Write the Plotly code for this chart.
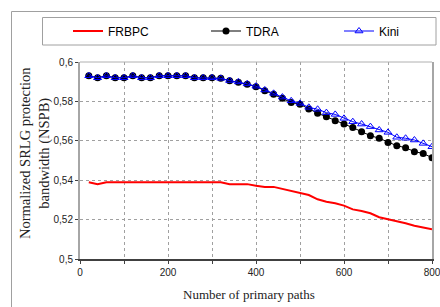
import plotly.graph_objects as go

x_paths = list(range(20, 801, 20))

frbpc = [0.539, 0.538, 0.539, 0.539, 0.539, 0.539, 0.539, 0.539, 0.539, 0.539,
         0.539, 0.539, 0.539, 0.539, 0.539, 0.539, 0.538, 0.538, 0.538, 0.5372,
         0.5366, 0.5366, 0.5355, 0.5345, 0.5333, 0.5325, 0.5303, 0.5291, 0.5283, 0.5271,
         0.5252, 0.5244, 0.5232, 0.5212, 0.5202, 0.5193, 0.5181, 0.5169, 0.5161, 0.5151]

tdra = [0.593, 0.592, 0.593, 0.592, 0.592, 0.593, 0.592, 0.592, 0.593, 0.593,
        0.593, 0.593, 0.592, 0.592, 0.592, 0.5917, 0.5905, 0.5897, 0.5887, 0.5875,
        0.5854, 0.5836, 0.5816, 0.5795, 0.5785, 0.5761, 0.5740, 0.5722, 0.5702, 0.5685,
        0.5667, 0.5646, 0.5626, 0.5613, 0.5592, 0.5575, 0.5565, 0.5545, 0.5536, 0.5514]

kini = [0.593, 0.592, 0.593, 0.592, 0.592, 0.593, 0.592, 0.592, 0.593, 0.593,
        0.593, 0.593, 0.592, 0.592, 0.592, 0.5917, 0.5906, 0.5899, 0.5889, 0.5877,
        0.5858, 0.5841, 0.5822, 0.5803, 0.5790, 0.5770, 0.5760, 0.5743, 0.5734, 0.5714,
        0.5697, 0.5685, 0.5672, 0.5655, 0.5643, 0.5618, 0.5613, 0.5604, 0.5587, 0.5570]

y_tickvals = [0.5, 0.52, 0.54, 0.56, 0.58, 0.6]
y_ticktext = ["0,5", "0,52", "0,54", "0,56", "0,58", "0,6"]
x_tickvals = [0, 100, 200, 300, 400, 500, 600, 700, 800]
x_ticktext = ["0", "", "200", "", "400", "", "600", "", "800"]

W, H = 440, 307
L, R, T, B = 80, 8, 62, 48
pw, ph = W - L - R, H - T - B


def px(x):
    return (x - L) / pw


def py(y):
    return (H - B - y) / ph


fig = go.Figure()
fig.add_trace(go.Scatter(x=x_paths, y=frbpc, name="FRBPC", mode="lines",
                         line=dict(color="#ff0000", width=2), legend="legend",
                         showlegend=True))
fig.add_trace(go.Scatter(x=x_paths, y=tdra, name="TDRA", mode="lines+markers",
                         line=dict(color="#000000", width=1),
                         marker=dict(symbol="circle", size=7, color="#000000"),
                         legend="legend2", showlegend=True))
fig.add_trace(go.Scatter(x=x_paths, y=kini, name="Kini", mode="lines+markers",
                         line=dict(color="#0000ff", width=1),
                         marker=dict(symbol="triangle-up-open", size=7, color="#0000ff",
                                     line=dict(width=1)),
                         legend="legend3", showlegend=True))

leg_common = dict(orientation="h", yanchor="middle", xanchor="left",
                  xref="container", yref="container",
                  bgcolor="rgba(0,0,0,0)", borderwidth=0,
                  font=dict(family="Liberation Sans, Arial", size=12, color="#000"),
                  itemwidth=30, visible=True)
ly = 1 - 31 / H

fig.update_layout(
    width=W, height=H,
    showlegend=True,
    margin=dict(l=L, r=R, t=T, b=B, autoexpand=False),
    paper_bgcolor="white", plot_bgcolor="white",
    legend=dict(x=68 / W, y=ly, **leg_common),
    legend2=dict(x=206 / W, y=ly, **leg_common),
    legend3=dict(x=339 / W, y=ly, **leg_common),
    xaxis=dict(range=[0, 800], tickvals=x_tickvals, ticktext=x_ticktext,
               showgrid=True, gridcolor="#a0a0a0", griddash="dot", gridwidth=1,
               showline=True, linecolor="#404040", linewidth=2,
               ticks="outside", ticklen=3, tickcolor="#404040",
               tickfont=dict(family="Liberation Sans, Arial", size=10, color="#222"),
               ticklabeloverflow="allow", zeroline=False),
    yaxis=dict(range=[0.5, 0.6], tickvals=y_tickvals, ticktext=y_ticktext,
               showgrid=True, gridcolor="#a0a0a0", griddash="dot", gridwidth=1,
               showline=True, linecolor="#a6a6a6", linewidth=2, mirror=True,
               ticks="outside", ticklen=3, tickcolor="#404040",
               tickfont=dict(family="Liberation Sans, Arial", size=10, color="#222"),
               ticklabeloverflow="allow", zeroline=False),
    shapes=[
        dict(type="line", xref="paper", yref="paper", x0=0, x1=1, y0=1, y1=1,
             line=dict(color="#b0b0b0", width=1)),
        dict(type="rect", xref="paper", yref="paper",
             x0=px(11.5), x1=px(450), y0=py(320), y1=py(11.5),
             line=dict(color="#a0a0a0", width=1)),
        dict(type="rect", xref="paper", yref="paper",
             x0=px(42.5), x1=px(436), y0=py(45), y1=py(17.5),
             line=dict(color="#a0a0a0", width=1)),
    ],
    annotations=[
        dict(text="Normalized SRLG protection<br>bandwidth (NSPB)", textangle=-90,
             xref="paper", yref="paper", x=px(35), y=py(153),
             showarrow=False, xanchor="center", yanchor="middle",
             font=dict(family="Liberation Serif, Times New Roman", size=14.5, color="#222")),
        dict(text="Number of primary paths", xref="paper", yref="paper",
             x=px(249), y=py(294), showarrow=False, xanchor="center", yanchor="middle",
             font=dict(family="Liberation Serif, Times New Roman", size=13, color="#222")),
    ],
)

fig.write_html("out.html", config={"displayModeBar": False},
               post_script="document.body.style.margin='0';document.body.style.overflow='hidden';")
